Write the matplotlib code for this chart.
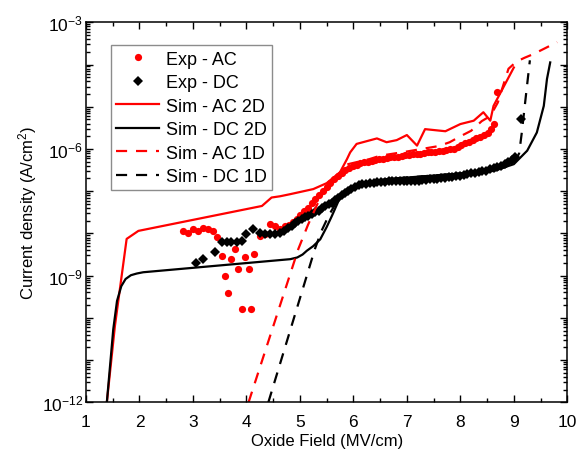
import matplotlib
matplotlib.use("Agg")
import matplotlib.pyplot as plt
import numpy as np
from matplotlib.ticker import LogLocator, FuncFormatter, MultipleLocator

RED = "#FF0000"
BLACK = "#000000"

# Exp - AC (field MV/cm, log10 J)
exp_ac_x = [2.82, 2.91, 3.01, 3.10, 3.19, 3.28, 3.38, 3.45, 3.54, 3.60, 3.66, 3.72, 3.79,
            3.85, 3.91, 3.97, 4.04, 4.08, 4.14, 4.26, 4.35, 4.44, 4.54, 4.63, 4.72,
            4.80, 4.87, 4.94, 5.01, 5.08, 5.15, 5.22, 5.29, 5.36, 5.43, 5.50, 5.57,
            5.64, 5.71, 5.78, 5.85, 5.92, 5.99, 6.06, 6.13, 6.20, 6.27, 6.34, 6.41,
            6.48, 6.55, 6.62, 6.69, 6.76, 6.83, 6.90, 6.97, 7.04, 7.11, 7.18, 7.25,
            7.32, 7.39, 7.46, 7.53, 7.60, 7.67, 7.74, 7.81, 7.88, 7.95, 8.02, 8.09,
            8.16, 8.23, 8.30, 8.37, 8.44, 8.51, 8.58, 8.63, 8.68]
exp_ac_logj = [-7.94, -7.98, -7.90, -7.94, -7.86, -7.90, -7.94, -8.09, -8.53, -9.00, -9.42, -8.61, -8.36,
               -8.85, -9.78, -8.57, -8.85, -9.78, -8.49, -8.06, -8.02, -7.78, -7.82, -7.90, -7.82,
               -7.80, -7.74, -7.66, -7.57, -7.48, -7.39, -7.29, -7.19, -7.10, -7.00, -6.90, -6.80,
               -6.71, -6.63, -6.56, -6.50, -6.45, -6.41, -6.37, -6.34, -6.32, -6.30, -6.28, -6.26,
               -6.24, -6.23, -6.21, -6.20, -6.19, -6.18, -6.17, -6.15, -6.14, -6.13, -6.12, -6.11,
               -6.10, -6.08, -6.07, -6.06, -6.05, -6.04, -6.02, -6.01, -5.99, -5.95, -5.91, -5.87,
               -5.83, -5.79, -5.75, -5.71, -5.67, -5.62, -5.53, -5.42, -4.66]

# Exp - DC
exp_dc_x = [3.05, 3.18, 3.42, 3.54, 3.63, 3.72, 3.82, 3.91, 4.00, 4.13, 4.26, 4.35, 4.44,
            4.54, 4.63, 4.70, 4.77, 4.85, 4.91, 4.97, 5.04, 5.10, 5.16, 5.22, 5.29,
            5.35, 5.41, 5.47, 5.54, 5.60, 5.66, 5.72, 5.78, 5.84, 5.90, 5.96, 6.03,
            6.10, 6.17, 6.24, 6.31, 6.38, 6.45, 6.52, 6.59, 6.66, 6.73, 6.80, 6.87,
            6.94, 7.01, 7.08, 7.15, 7.22, 7.29, 7.36, 7.43, 7.50, 7.57, 7.64, 7.71,
            7.78, 7.85, 7.92, 7.99, 8.06, 8.13, 8.20, 8.27, 8.34, 8.41, 8.48, 8.55,
            8.62, 8.69, 8.76, 8.83, 8.90, 8.96, 9.02, 9.14]
exp_dc_logj = [-8.70, -8.60, -8.45, -8.20, -8.21, -8.20, -8.21, -8.17, -8.02, -7.90, -7.98, -8.02, -8.02,
               -8.02, -8.00, -7.95, -7.88, -7.82, -7.76, -7.70, -7.66, -7.62, -7.58, -7.54, -7.50,
               -7.46, -7.40, -7.35, -7.31, -7.27, -7.21, -7.16, -7.10, -7.05, -6.99, -6.94, -6.89,
               -6.86, -6.84, -6.82, -6.81, -6.80, -6.79, -6.78, -6.78, -6.77, -6.77, -6.77, -6.76,
               -6.76, -6.76, -6.75, -6.75, -6.75, -6.74, -6.73, -6.72, -6.71, -6.70, -6.69, -6.68,
               -6.67, -6.66, -6.65, -6.63, -6.61, -6.60, -6.58, -6.57, -6.55, -6.53, -6.51, -6.48,
               -6.46, -6.43, -6.40, -6.36, -6.32, -6.26, -6.20, -5.28]

# Sim - AC 2D
sim_ac2d_x = [1.39, 1.54, 1.76, 1.98, 4.29, 4.47, 4.63, 4.82, 5.25, 5.50, 5.75, 5.88, 5.94,
              6.06, 6.44, 6.62, 6.81, 7.00, 7.19, 7.34, 7.72, 8.00, 8.25, 8.43, 8.56, 8.62, 9.00]
sim_ac2d_logj = [-12.0, -10.2, -8.13, -7.94, -7.35, -7.15, -7.12, -7.07, -6.95, -6.81, -6.55, -6.24, -6.08,
                 -5.88, -5.75, -5.84, -5.79, -5.67, -5.92, -5.53, -5.58, -5.41, -5.33, -5.13, -5.33, -4.98, -4.07]

# Sim - DC 2D
sim_dc2d_x = [1.39, 1.51, 1.58, 1.66, 1.74, 1.84, 1.95, 2.07, 4.82, 4.95, 5.05, 5.13, 5.25, 5.38,
              5.50, 5.60, 5.75, 5.94, 6.25, 6.66, 8.62, 9.00, 9.25, 9.43, 9.56, 9.62, 9.68]
sim_dc2d_logj = [-12.0, -10.27, -9.60, -9.25, -9.08, -8.99, -8.95, -8.92, -8.61, -8.57, -8.50, -8.41, -8.30, -8.14,
                 -7.85, -7.58, -7.15, -6.91, -6.79, -6.71, -6.52, -6.36, -6.04, -5.61, -4.98, -4.34, -3.95]

# Sim - AC 1D
sim_ac1d_x = [4.04, 4.97, 5.15, 5.40, 5.60, 5.90, 6.30, 6.50, 7.00, 7.60, 7.80, 8.00, 8.20,
              8.40, 8.56, 8.70, 8.90, 9.05, 9.20, 9.37, 9.81]
sim_ac1d_logj = [-12.0, -8.37, -7.80, -7.10, -6.75, -6.36, -6.24, -6.16, -6.06, -5.93, -5.84, -5.70, -5.57,
                 -5.34, -5.22, -4.90, -4.10, -3.93, -3.84, -3.75, -3.47]

# Sim - DC 1D
sim_dc1d_x = [4.41, 5.28, 5.40, 5.55, 5.75, 5.94, 6.25, 6.66, 8.62, 9.00, 9.10, 9.15, 9.22, 9.30]
sim_dc1d_logj = [-12.0, -8.37, -7.95, -7.55, -7.12, -6.91, -6.79, -6.71, -6.52, -6.36, -6.10, -5.60, -4.80, -3.90]


def to_j(values):
    return 10.0 ** np.asarray(values)


plt.rcParams.update(
    {
        "font.family": ["Liberation Sans", "DejaVu Sans"],
        "mathtext.fontset": "custom",
        "mathtext.rm": "Liberation Sans",
        "mathtext.it": "Liberation Sans:italic",
        "mathtext.bf": "Liberation Sans:bold",
        "figure.dpi": 100,
    }
)

fig = plt.figure(figsize=(5.83, 4.60))
ax = fig.add_axes([0.1475, 0.1233, 0.8256, 0.8260])

ax.plot(exp_ac_x, to_j(exp_ac_logj), "o", color=RED, markersize=5.2, markeredgewidth=0, label="Exp - AC")
ax.plot(exp_dc_x, to_j(exp_dc_logj), "D", color=BLACK, markersize=4.8, markeredgewidth=0, label="Exp - DC")
ax.plot(sim_ac2d_x, to_j(sim_ac2d_logj), "-", color=RED, linewidth=1.6, label="Sim - AC 2D")
ax.plot(sim_dc2d_x, to_j(sim_dc2d_logj), "-", color=BLACK, linewidth=1.6, label="Sim - DC 2D")
ax.plot(sim_ac1d_x, to_j(sim_ac1d_logj), color=RED, linewidth=1.6, linestyle=(0, (5, 4)), label="Sim - AC 1D")
ax.plot(sim_dc1d_x, to_j(sim_dc1d_logj), color=BLACK, linewidth=1.6, linestyle=(0, (5, 4)), label="Sim - DC 1D")

ax.set_yscale("log")
ax.set_xlim(1, 10)
ax.set_ylim(1e-12, 1e-3)

ax.xaxis.set_major_locator(MultipleLocator(1))
ax.xaxis.set_minor_locator(MultipleLocator(0.5))
ax.yaxis.set_major_locator(LogLocator(base=10, numticks=20))
ax.yaxis.set_minor_locator(LogLocator(base=10, subs=np.arange(2, 10), numticks=20))


def ylabel_fmt(value, pos):
    exp = int(round(np.log10(value)))
    if exp % 3 == 0:
        return r"$10^{%d}$" % exp
    return ""


ax.yaxis.set_major_formatter(FuncFormatter(ylabel_fmt))
ax.yaxis.set_minor_formatter(FuncFormatter(lambda v, p: ""))

ax.tick_params(which="both", direction="in", top=True, right=True, labelsize=12.5, width=1)
ax.tick_params(which="major", length=5)
ax.tick_params(which="minor", length=3)
ax.tick_params(axis="x", which="major", pad=8.5)
ax.tick_params(axis="y", which="major", pad=2)
for spine in ax.spines.values():
    spine.set_linewidth(1.1)

ax.set_xlabel("Oxide Field (MV/cm)", fontsize=12, labelpad=3)
ax.set_ylabel("Current density (A/cm$^2$)", fontsize=12, labelpad=2)

legend = ax.legend(
    loc="upper left",
    bbox_to_anchor=(0.051, 0.940),
    borderaxespad=0,
    fontsize=13,
    handlelength=2.4,
    handletextpad=0.37,
    borderpad=0.3,
    labelspacing=0.36,
    fancybox=False,
    framealpha=1,
    edgecolor="#8C8C8C",
)
legend.get_frame().set_linewidth(1.0)

fig.savefig("out.png", dpi=100)
